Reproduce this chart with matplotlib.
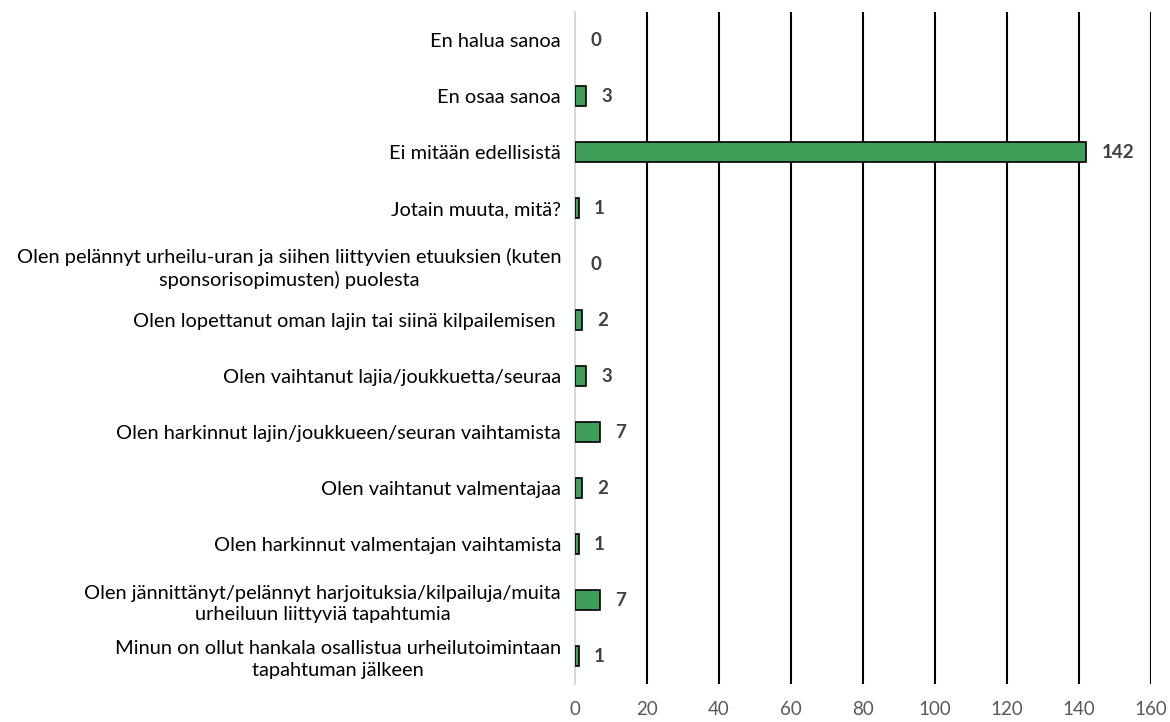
import matplotlib
matplotlib.use("Agg")
import matplotlib.pyplot as plt

categories = [
    "En halua sanoa",
    "En osaa sanoa",
    "Ei mitään edellisistä",
    "Jotain muuta, mitä?",
    "Olen pelännyt urheilu-uran ja siihen liittyvien etuuksien (kuten\nsponsorisopimusten) puolesta",
    "Olen lopettanut oman lajin tai siinä kilpailemisen ",
    "Olen vaihtanut lajia/joukkuetta/seuraa",
    "Olen harkinnut lajin/joukkueen/seuran vaihtamista",
    "Olen vaihtanut valmentajaa",
    "Olen harkinnut valmentajan vaihtamista",
    "Olen jännittänyt/pelännyt harjoituksia/kilpailuja/muita\nurheiluun liittyviä tapahtumia",
    "Minun on ollut hankala osallistua urheilutoimintaan\ntapahtuman jälkeen",
]
values = [0, 3, 142, 1, 0, 2, 3, 7, 2, 1, 7, 1]
x_ticks = [0, 20, 40, 60, 80, 100, 120, 140, 160]

plt.rcParams['font.family'] = ['Lato', 'DejaVu Sans']

fig = plt.figure(figsize=(11.7, 7.22), dpi=100)
ax = fig.add_axes([575/1170, 1-684/722, 576/1170, 672/722])

ypos = list(range(len(categories)))
bars = ax.barh(ypos, values, height=0.36, color='#3f9e57', edgecolor='black', linewidth=1.2, zorder=3)
for b, v in zip(bars, values):
    if v == 0:
        b.set_visible(False)
ax.set_ylim(len(categories)-0.5, -0.5)
ax.set_xlim(0, 160)
ax.set_xticks(x_ticks)
ax.set_xticklabels([str(t) for t in x_ticks])
ax.set_yticks(ypos)
ax.set_yticklabels(categories, multialignment='center', linespacing=1.35)
ax.tick_params(axis='y', length=0, pad=10, labelsize=14.4, labelcolor='#000000')
ax.tick_params(axis='x', length=0, pad=12, labelsize=13.5, labelcolor='#595959')

ax.grid(axis='x', color='black', linewidth=1.5, zorder=1)
ax.grid(axis='y', visible=False)
for s in ['top', 'right', 'bottom']:
    ax.spines[s].set_visible(False)
ax.spines['left'].set_color('#d9d9d9')
ax.spines['left'].set_linewidth(1.5)
ax.spines['left'].set_zorder(2)
ax.xaxis.get_gridlines()[0].set_visible(False)

for y, v in zip(ypos, values):
    ax.annotate(str(v), xy=(v, y), xytext=(11, 0), textcoords='offset points',
                ha='left', va='center', fontsize=13.5, fontweight='bold', color='#404040')

fig.savefig('out.png', dpi=100)
